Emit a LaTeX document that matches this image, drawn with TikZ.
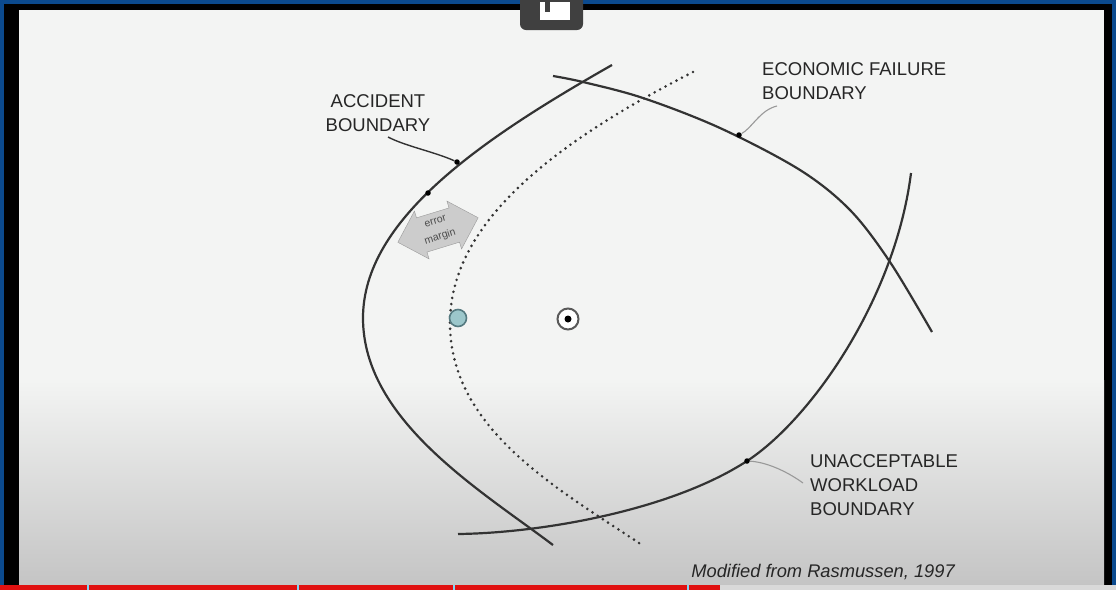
\documentclass[tikz,border=0pt]{standalone}
\usepackage{fontspec}
\setmainfont{Liberation Sans}
\usetikzlibrary{shapes.arrows}
\definecolor{frameblue}{HTML}{0B4A8E}
\definecolor{slidetop}{HTML}{F3F4F3}
\definecolor{slidebot}{HTML}{C4C4C4}
\definecolor{curvecol}{HTML}{333333}
\definecolor{tealfill}{HTML}{9CC7CB}
\definecolor{tealdraw}{HTML}{557A80}
\definecolor{progred}{HTML}{E01010}
\tikzset{
  boundary/.style={draw=curvecol, line width=2.2pt},
  dottedline/.style={draw=curvecol, line width=2.9pt, line cap=round, dash pattern=on 0pt off 6.2pt},
  label/.style={font=\fontsize{18.5}{24}\selectfont, text=black!85, inner sep=0pt, align=left, anchor=north west},
  curvedot/.style={circle, fill=black, inner sep=0pt, minimum size=5.5pt},
  leaderdark/.style={draw=curvecol, line width=1.4pt},
  leadergray/.style={draw=black!40, line width=1.1pt},
}
\begin{document}
\begin{tikzpicture}[x=1pt,y=-1pt]
\useasboundingbox (0,0) rectangle (1116,590);
% frame
\fill[frameblue] (0,0) rectangle (1116,590);
\fill[black] (4,4) rectangle (1112,590);
% slide
\fill[slidetop] (19,10) rectangle (1104,380);
\shade[top color=slidetop, bottom color=slidebot] (19,380) rectangle (1104,586);
% top icon
\fill[black!75, rounded corners=6pt] (520,-6) rectangle (583,30);
\fill[white] (540,2) rectangle (570,20);
\fill[black!75] (545,2) rectangle (550,12);
% bottom progress bar
\fill[black!15] (0,585) rectangle (1116,590);
\fill[progred] (0,585) rectangle (720,590);
\foreach \xx in {87,297,453,687} \fill[cyan!50] (\xx,585) rectangle (\xx+1.5,590);

% boundaries
\draw[boundary] (612,65) .. controls (480,140) and (363,220) .. (363,318) .. controls (363,420) and (480,490) .. (553,545);
\draw[dottedline] (693,72) .. controls (560,140) and (450,220) .. (450,323) .. controls (450,430) and (560,490) .. (642,545);
\draw[boundary] plot[smooth, tension=0.55] coordinates {(553,76) (583,82) (643,98) (720,128) (800,170) (850,210) (890,262) (932,332)};
\draw[boundary] (911,173) .. controls (895,300) and (810,420) .. (747,461) .. controls (670,511) and (540,533) .. (458,534);

% dots on curves
\node[curvedot] (dA) at (457,162) {};
\node[curvedot] (dA2) at (428,193) {};
\node[curvedot] (dE) at (739,135) {};
\node[curvedot] (dW) at (747,461) {};

% labels
\node[label, align=center, anchor=north] (lA) at (378,94) {ACCIDENT\\BOUNDARY};
\node[label] (lE) at (762,62) {ECONOMIC FAILURE\\BOUNDARY};
\node[label] (lW) at (810,454) {UNACCEPTABLE\\WORKLOAD\\BOUNDARY};
\coordinate (lAend) at (388,137);
\coordinate (lEend) at (777,106);
\coordinate (lWend) at (803,483);

% leaders
\draw[leaderdark] (lAend) .. controls (405,146) and (435,152) .. (dA);
\draw[leadergray] (dE) .. controls (752,128) and (760,110) .. (lEend);
\draw[leadergray] (dW) .. controls (765,462) and (785,470) .. (lWend);

% error margin arrow
\node[double arrow, draw=black!40, fill=black!20, rotate=17, minimum height=84pt, minimum width=50pt,
      double arrow head extend=6pt, inner xsep=3pt, inner ysep=3pt, align=center, text=black!70,
      font=\fontsize{10.5}{16}\selectfont] (em) at (438,230) {error\\margin};

% operating point and target
\node[circle, draw=tealdraw, fill=tealfill, line width=1.6pt, minimum size=17pt, inner sep=0pt] (op) at (458,318) {};
\node[circle, draw=black!65, fill=white, line width=2pt, minimum size=21pt, inner sep=0pt] (tg) at (568,319) {};
\node[circle, fill=black, minimum size=7pt, inner sep=0pt] (tgc) at (tg) {};

% source
\node[font=\fontsize{18.3}{20}\selectfont\itshape, text=black!85, anchor=base east, inner sep=0pt] (src) at (955,577) {Modified from Rasmussen, 1997};
\end{tikzpicture}
\end{document}
